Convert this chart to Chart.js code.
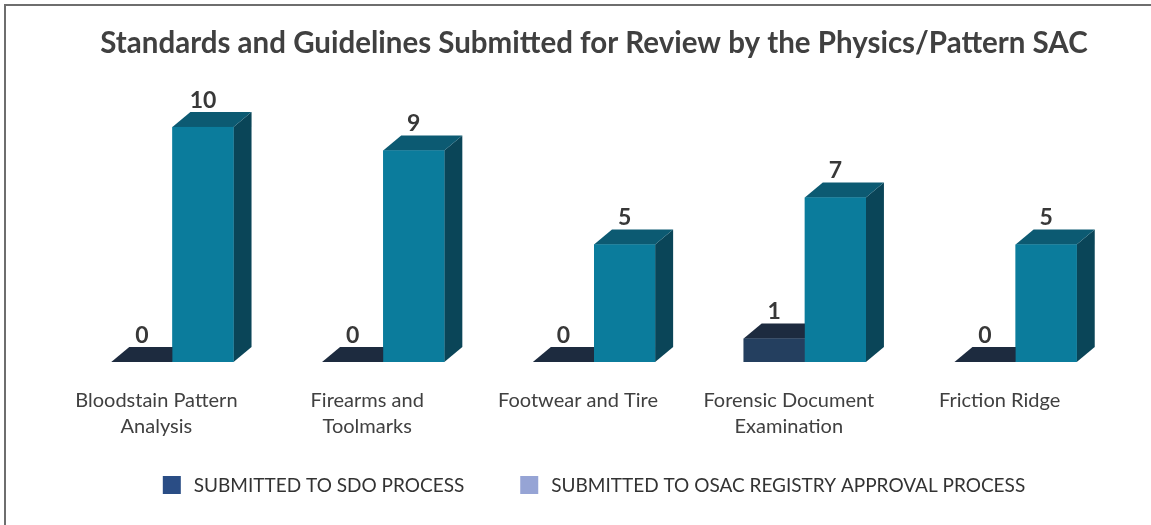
<!DOCTYPE html>
<html>
<head>
<meta charset="utf-8">
<script src="https://cdn.jsdelivr.net/npm/chart.js@4.4.1/dist/chart.umd.min.js"></script>
<style>
html,body{margin:0;padding:0;background:#fff;}
#wrap{width:1151px;height:525px;position:relative;}
</style>
</head>
<body>
<div id="wrap"><canvas id="c" width="1151" height="525"></canvas></div>
<script>
// ---- data ----
const titleText = 'Standards and Guidelines Submitted for Review by the Physics/Pattern SAC';
const categories = [
  ['Bloodstain Pattern', 'Analysis'],
  ['Firearms and', 'Toolmarks'],
  'Footwear and Tire',
  ['Forensic Document', 'Examination'],
  'Friction Ridge'
];
const seriesNames = ['SUBMITTED TO SDO PROCESS', 'SUBMITTED TO OSAC REGISTRY APPROVAL PROCESS'];
const sdoValues = [0, 0, 0, 1, 0];
const osacValues = [10, 9, 5, 7, 5];

// ---- styles ----
const frontColors = ['#243f5f', '#0b7c9c'];
const topColors = ['#1d2b3f', '#0c5a72'];
const sideColors = ['#1a2a3c', '#0a4558'];
const legendColors = ['#2a4d85', '#96a4d5'];
const DX = 18, DY = 15;

const box3d = {
  id: 'box3d',
  afterDatasetsDraw(chart) {
    const ctx = chart.ctx;
    ctx.save();
    chart.data.datasets.forEach((ds, di) => {
      const meta = chart.getDatasetMeta(di);
      meta.data.forEach((el) => {
        const p = el.getProps(['x', 'y', 'base', 'width'], true);
        const l = p.x - p.width / 2, r = p.x + p.width / 2;
        // side face
        ctx.fillStyle = sideColors[di];
        ctx.beginPath();
        ctx.moveTo(r, p.y); ctx.lineTo(r + DX, p.y - DY);
        ctx.lineTo(r + DX, p.base - DY); ctx.lineTo(r, p.base);
        ctx.closePath(); ctx.fill();
        // top face
        ctx.fillStyle = topColors[di];
        ctx.beginPath();
        ctx.moveTo(l, p.y); ctx.lineTo(l + DX, p.y - DY);
        ctx.lineTo(r + DX, p.y - DY); ctx.lineTo(r, p.y);
        ctx.closePath(); ctx.fill();
        // front face
        ctx.fillStyle = frontColors[di];
        ctx.fillRect(l, p.y, p.width, p.base - p.y);
      });
    });
    // value labels
    ctx.font = 'bold 23px Lato';
    ctx.fillStyle = '#383838';
    ctx.textAlign = 'center';
    ctx.textBaseline = 'alphabetic';
    chart.data.datasets.forEach((ds, di) => {
      const meta = chart.getDatasetMeta(di);
      meta.data.forEach((el, i) => {
        const p = el.getProps(['x', 'y'], true);
        ctx.fillText(String(ds.data[i]), p.x, p.y - DY - 4);
      });
    });
    ctx.restore();
  },
  afterDraw(chart) {
    const ctx = chart.ctx;
    ctx.save();
    // frame
    ctx.strokeStyle = '#6e6e6e';
    ctx.lineWidth = 2;
    ctx.beginPath();
    ctx.moveTo(5, 526); ctx.lineTo(5, 5); ctx.lineTo(1151, 5);
    ctx.stroke();
    // legend
    ctx.font = '19px Lato';
    ctx.textBaseline = 'middle';
    ctx.textAlign = 'left';
    const bw = 18, bh = 18, gapText = 13, gapItem = 56;
    const widths = seriesNames.map(s => ctx.measureText(s).width);
    const total = widths.reduce((a, w) => a + bw + gapText + w, 0) + gapItem * (seriesNames.length - 1);
    const ca = chart.chartArea;
    let x = (ca.left + ca.right) / 2 - total / 2;
    const yc = 485;
    seriesNames.forEach((s, i) => {
      ctx.fillStyle = legendColors[i];
      ctx.fillRect(x, yc - bh / 2, bw, bh);
      ctx.fillStyle = '#333333';
      ctx.fillText(s, x + bw + gapText, yc + 1);
      x += bw + gapText + widths[i] + gapItem;
    });
    ctx.restore();
  }
};

new Chart(document.getElementById('c'), {
  type: 'bar',
  data: {
    labels: categories,
    datasets: [
      { label: seriesNames[0], data: sdoValues, backgroundColor: frontColors[0], borderWidth: 0 },
      { label: seriesNames[1], data: osacValues, backgroundColor: frontColors[1], borderWidth: 0 }
    ]
  },
  options: {
    responsive: false,
    animation: false,
    devicePixelRatio: 1,
    layout: { padding: { left: 67, right: 30, top: 26, bottom: 67 } },
    datasets: { bar: { categoryPercentage: 0.58, barPercentage: 1.0 } },
    plugins: {
      legend: { display: false },
      tooltip: { enabled: false },
      title: {
        display: true,
        text: titleText,
        color: '#404040',
        font: { family: 'Lato', size: 29.5, weight: 'bold', lineHeight: 1.2 },
        padding: { top: 0, bottom: 42 }
      }
    },
    scales: {
      x: {
        grid: { display: false },
        border: { display: false },
        ticks: {
          color: '#404040',
          font: { family: 'Lato', size: 20, lineHeight: 1.3 },
          padding: 18,
          labelOffset: -16,
          maxRotation: 0,
          autoSkip: false
        }
      },
      y: {
        display: false,
        min: 0,
        max: 11
      }
    }
  },
  plugins: [box3d]
});
</script>
</body>
</html>
